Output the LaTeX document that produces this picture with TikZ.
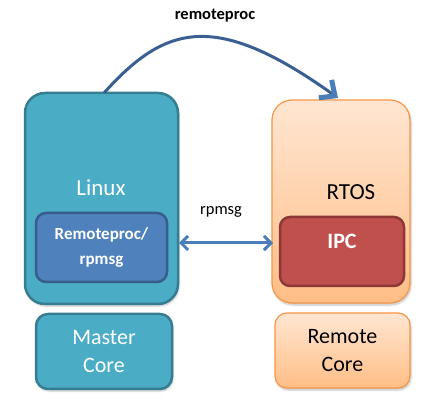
\documentclass[tikz,border=0pt]{standalone}
\usepackage{fontspec}
\setmainfont{Carlito}
\usetikzlibrary{arrows.meta,shadows.blur}
\definecolor{tealf}{HTML}{4BACC6}
\definecolor{teald}{HTML}{357D91}
\definecolor{bluef}{HTML}{4F81BD}
\definecolor{blued}{HTML}{385D8A}
\definecolor{redf}{HTML}{C0504D}
\definecolor{redd}{HTML}{8C3836}
\definecolor{orgd}{HTML}{F79646}
\definecolor{orgt}{HTML}{FFE6D2}
\definecolor{orgb}{HTML}{FFBE86}
\definecolor{curvec}{HTML}{3B5F93}
\definecolor{arrc}{HTML}{4A7EBB}
\tikzset{
  px/.style={x=1pt,y=-1pt},
  tealbox/.style={draw=teald,fill=tealf,line width=2.5pt,text=white,
    blur shadow={shadow blur steps=5,shadow xshift=1pt,shadow yshift=-2pt,shadow opacity=25}},
  orgbox/.style={draw=orgd,line width=1.2pt,top color=orgt,bottom color=orgb,
    blur shadow={shadow blur steps=5,shadow xshift=1pt,shadow yshift=-2pt,shadow opacity=25}},
  innerbox/.style={line width=2.5pt,text=white,font=\bfseries},
}
\begin{document}
\begin{tikzpicture}[px]
\useasboundingbox (0,0) rectangle (440,409);
% Linux big box
\draw[tealbox,rounded corners=20pt] (25,93) rectangle (178,304);
\node[text=white,font=\fontsize{23}{26}\selectfont] (linux) at (101,188) {Linux};
\draw[innerbox,draw=blued,fill=bluef,rounded corners=10pt] (36,213) rectangle (167,282);
\node[text=white,font=\bfseries\fontsize{17}{25}\selectfont,align=center] (rp) at (101.5,247.5) {Remoteproc/\\rpmsg};
\coordinate (rpE) at (179,243);
% Master core
\draw[tealbox,rounded corners=12pt] (36,314) rectangle (172,389);
\node[text=white,font=\fontsize{22}{28}\selectfont,align=center] (master) at (104,351.5) {Master\\Core};
% RTOS big box
\draw[orgbox,rounded corners=20pt] (272,100) rectangle (410,303);
\node[font=\fontsize{23}{26}\selectfont] (rtos) at (351,192) {RTOS};
\draw[innerbox,draw=redd,fill=redf,rounded corners=10pt] (280,217) rectangle (404,286);
\node[text=white,font=\bfseries\fontsize{22}{25}\selectfont] (ipc) at (342,241) {IPC};
\coordinate (ipcW) at (273,243);
% Remote core
\draw[orgbox,rounded corners=12pt] (275,313) rectangle (410,388);
\node[font=\fontsize{22}{28}\selectfont,align=center] (remote) at (342.5,350.5) {Remote\\Core};
% remoteproc curve
\coordinate (cs) at (104,93);
\coordinate (ce) at (338,98);
\draw[curvec,line width=3pt,-{Straight Barb[length=12pt,width=22pt,line width=5pt,color=arrc]}]
  (cs) .. controls (165,25) and (215,10) .. (ce);
\node[font=\bfseries\fontsize{16.5}{18}\selectfont] (rpl) at (215,16) {remoteproc};
% rpmsg arrow
\draw[arrc,line width=3pt,{Straight Barb[length=7pt,width=14pt]}-{Straight Barb[length=7pt,width=14pt]}] (rpE) -- (ipcW);
\node[font=\fontsize{16.5}{18}\selectfont] (rpm) at (221,212) {rpmsg};
\end{tikzpicture}
\end{document}
